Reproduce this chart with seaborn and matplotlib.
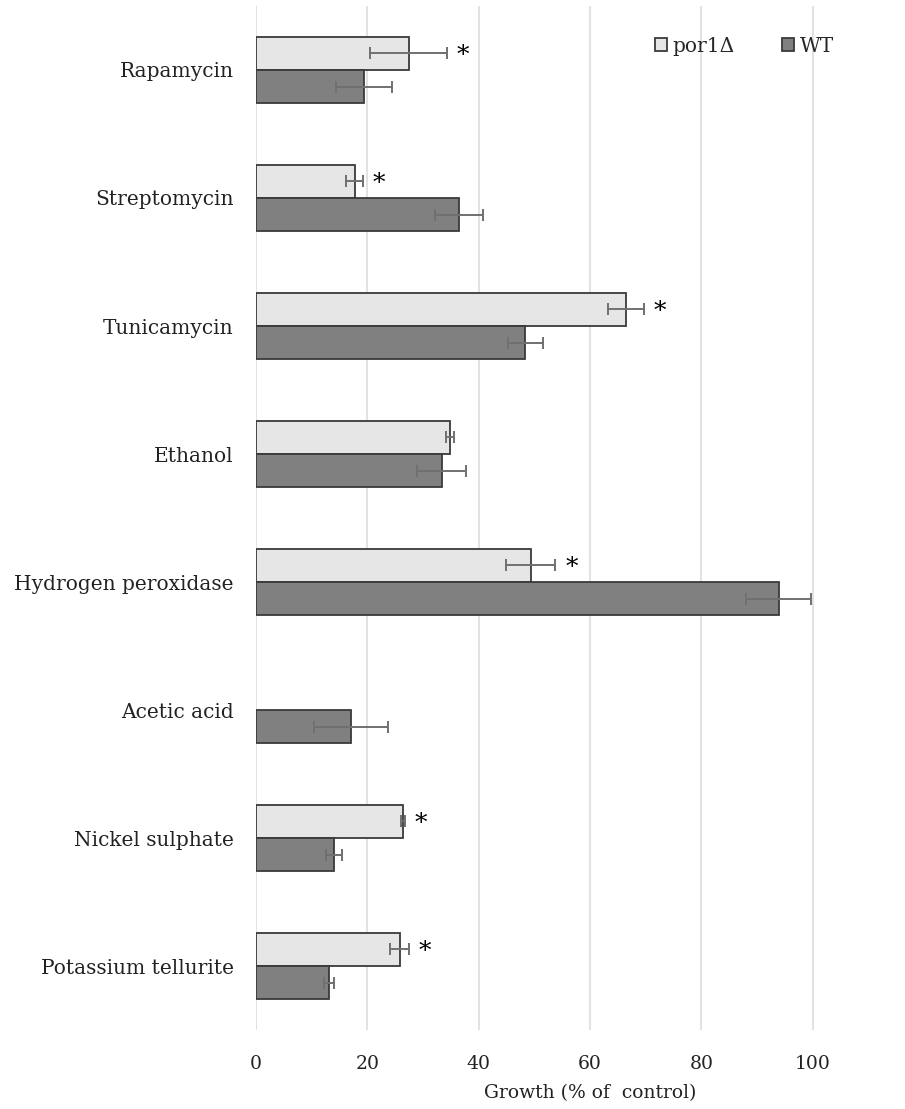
import numpy as np
import pandas as pd
import seaborn as sns
import matplotlib.pyplot as plt

treatments = ["Rapamycin", "Streptomycin", "Tunicamycin", "Ethanol",
              "Hydrogen peroxidase", "Acetic acid", "Nickel sulphate",
              "Potassium tellurite"]
por1_mean = [27.4, 17.7, 66.5, 34.8, 49.4, np.nan, 26.4, 25.8]
por1_err = [6.9, 1.5, 3.2, 0.7, 4.4, np.nan, 0.3, 1.7]
wt_mean = [19.4, 36.4, 48.4, 33.4, 93.9, 17.1, 14.0, 13.1]
wt_err = [5.1, 4.3, 3.2, 4.4, 5.8, 6.7, 1.4, 0.9]
significant = [True, True, True, False, True, False, True, True]
strains = ["por1\u0394", "WT"]

df = pd.DataFrame({
    "treatment": treatments * 2,
    "strain": [strains[0]] * len(treatments) + [strains[1]] * len(treatments),
    "growth": por1_mean + wt_mean,
    "err": por1_err + wt_err,
})

sns.set_style("white")
plt.rcParams["font.family"] = ["DejaVu Serif"]

fig = plt.figure(figsize=(9.05, 11.09), dpi=100)
ax = fig.add_axes([0.2829, 0.0712, 0.738, 0.9234])

palette = {strains[0]: "#e6e6e6", strains[1]: "#808080"}
sns.barplot(data=df, y="treatment", x="growth", hue="strain", order=treatments,
            hue_order=strains, palette=palette, width=0.52, errorbar=None,
            edgecolor="#3a3a3a", linewidth=1.3, saturation=1, ax=ax, zorder=2)

# error bars (and stars) placed on the bars seaborn drew
means = {strains[0]: por1_mean, strains[1]: wt_mean}
errs = {strains[0]: por1_err, strains[1]: wt_err}
for k, strain in enumerate(strains):
    for patch in ax.containers[k].patches:
        yc = patch.get_y() + patch.get_height() / 2
        i = int(round(yc))
        m, e = means[strain][i], errs[strain][i]
        if np.isnan(m):
            continue
        ax.errorbar(m, yc, xerr=e, color="#707070", elinewidth=1.4, capsize=4.5,
                    capthick=1.4, zorder=3)
        if strain == strains[0] and significant[i]:
            ax.text(m + e + 2.9, yc + 0.02, "*", fontsize=18, ha="center",
                    va="center", color="black")

ax.set_ylim(len(treatments) - 0.5, -0.5)
ax.set_xlim(0, 120)
ax.set_xticks([0, 20, 40, 60, 80, 100])
ax.xaxis.grid(True, color="#dadada", linewidth=1.1, zorder=0)
ax.set_axisbelow(True)
for s in ax.spines.values():
    s.set_visible(False)
ax.tick_params(axis="y", length=0, pad=16, labelsize=14.5, labelcolor="#222222")
ax.tick_params(axis="x", length=0, pad=18, labelsize=13.5, labelcolor="#222222")
ax.set_ylabel("")
ax.set_xlabel("Growth (% of  control)", fontsize=13.5, color="#222222", labelpad=8)

ax.legend(title=None, frameon=False, loc="upper left", bbox_to_anchor=(0.585, 0.978),
          ncol=2, fontsize=14.5, handlelength=0.6, handleheight=0.6,
          handletextpad=0.25, columnspacing=2.4, borderaxespad=0)

fig.savefig("out.png", dpi=100)
